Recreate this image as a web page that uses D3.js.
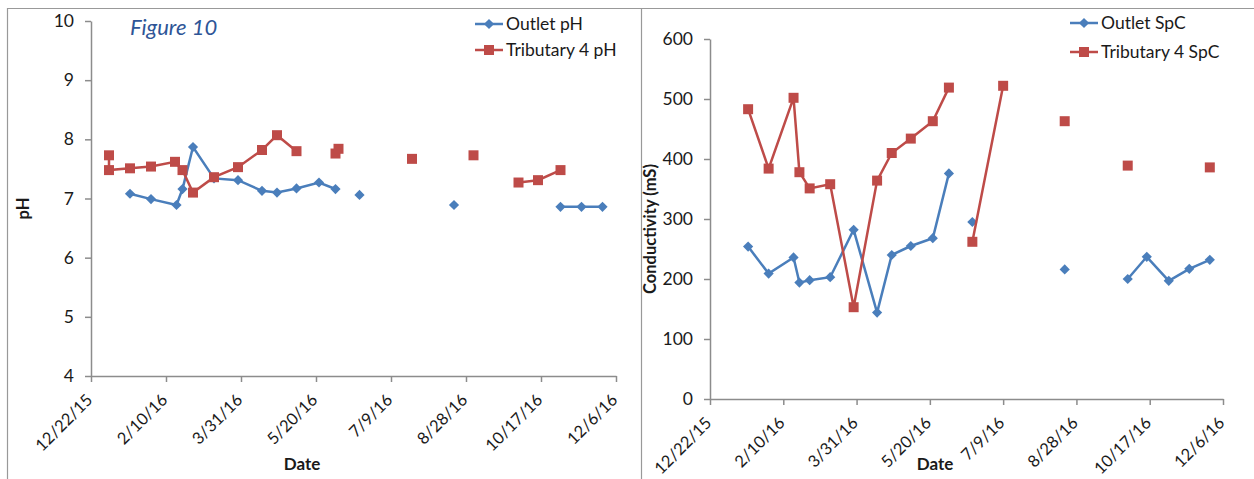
<!DOCTYPE html>
<html>
<head>
<meta charset="utf-8">
<script src="https://cdn.jsdelivr.net/npm/d3@7"></script>
<style>
  body { margin: 0; background: #fff; }
  svg { display: block; font-family: Lato, "Open Sans", sans-serif; }
</style>
</head>
<body>
<svg id="chart" width="1254" height="479"></svg>
<script>
// tick dates (every 50 days) shared by both panels
const tickDates = ['12/22/15', '2/10/16', '3/31/16', '5/20/16', '7/9/16', '8/28/16', '10/17/16', '12/6/16'];

// pH panel, null breaks the line
const outletPhDates = ['1/17/16', '1/31/16', '2/17/16', '2/21/16', '2/28/16', '3/13/16', '3/29/16', '4/14/16', '4/24/16', '5/7/16', '5/22/16', '6/2/16', '6/10/16', '6/18/16', '7/1/16', '8/20/16', '9/1/16', '10/30/16', '11/13/16', '11/27/16'];
const outletPh = [7.08, 6.99, 6.89, 7.16, 7.87, 7.34, 7.31, 7.13, 7.10, 7.17, 7.27, 7.16, null, 7.06, null, 6.89, null, 6.86, 6.86, 6.86];

const tribPhDates = ['1/3/16', '1/3/16', '1/17/16', '1/31/16', '2/16/16', '2/21/16', '2/28/16', '3/13/16', '3/29/16', '4/14/16', '4/24/16', '5/7/16', '5/22/16', '6/2/16', '6/4/16', '6/18/16', '7/23/16', '8/10/16', '9/2/16', '9/20/16', '10/2/16', '10/15/16', '10/30/16'];
const tribPh = [7.73, 7.48, 7.51, 7.54, 7.62, 7.48, 7.10, 7.36, 7.53, 7.82, 8.07, 7.80, null, 7.76, 7.84, null, 7.67, null, 7.73, null, 7.27, 7.31, 7.48];

// conductivity panel
const outletSpcDates = ['1/17/16', '1/31/16', '2/17/16', '2/21/16', '2/28/16', '3/13/16', '3/29/16', '4/14/16', '4/24/16', '5/7/16', '5/22/16', '6/2/16', '6/10/16', '6/18/16', '7/1/16', '8/20/16', '9/1/16', '10/2/16', '10/15/16', '10/30/16', '11/13/16', '11/27/16'];
const outletSpc = [254, 209, 236, 194, 198, 203, 282, 144, 240, 255, 268, 376, null, 295, null, 216, null, 200, 237, 197, 217, 232];

const tribSpcDates = ['1/17/16', '1/31/16', '2/17/16', '2/21/16', '2/28/16', '3/13/16', '3/29/16', '4/14/16', '4/24/16', '5/7/16', '5/22/16', '6/2/16', '6/10/16', '6/18/16', '7/9/16', '7/30/16', '8/20/16', '9/1/16', '10/2/16', '10/20/16', '11/27/16'];
const tribSpc = [483, 384, 502, 378, 351, 358, 153, 364, 410, 434, 463, 519, null, 262, 522, null, 463, null, 389, null, 386];

const phTicks = [4, 5, 6, 7, 8, 9, 10];
const spcTicks = [0, 100, 200, 300, 400, 500, 600];

const BLUE = '#4a7ebb';
const RED = '#be4b48';
const AXIS = '#8c8c8c';

const parse = d3.timeParse('%m/%d/%y');
const fmt = d3.timeFormat('%-m/%-d/%y');
const zip = (ds, vs) => ds.map((d, i) => ({ date: parse(d), value: vs[i] }));

const svg = d3.select('#chart');

// panel frames
svg.append('line').attr('x1', 7).attr('x2', 1254).attr('y1', 8.5).attr('y2', 8.5).attr('stroke', '#999').attr('stroke-width', 1.2);
svg.append('line').attr('x1', 7.5).attr('x2', 7.5).attr('y1', 8).attr('y2', 479).attr('stroke', '#999').attr('stroke-width', 1.2);
svg.append('line').attr('x1', 641.5).attr('x2', 641.5).attr('y1', 8).attr('y2', 479).attr('stroke', '#999').attr('stroke-width', 1.2);

// marker drawers: diamond is a square turned 45 degrees, like Excel's
const markers = {
    diamond: { sym: d3.symbol().type(d3.symbolSquare).size(52), rot: ' rotate(45)' },
    square: { sym: d3.symbol().type(d3.symbolSquare).size(100), rot: '' }
};

const drawPanel = opts => {
    const { x0, x1, y0, y1, domain, ticks, series, yTitle, yTitleX, dateX, legendX } = opts;
    const x = d3.scaleTime().domain([ parse(tickDates[0]), parse(tickDates[tickDates.length - 1]) ]).range([ x0, x1 ]);
    const y = d3.scaleLinear().domain(domain).range([ y0, y1 ]);
    const g = svg.append('g');

    // y axis
    const ya = g.append('g')
    .attr('transform', 'translate(' + x0 + ',0)')
    .call(d3.axisLeft(y).tickValues(ticks).tickFormat(d3.format('d')).tickSize(6).tickSizeOuter(0).tickPadding(11));
    ya.select('.domain').attr('stroke', AXIS).attr('stroke-width', 1.5);
    ya.selectAll('.tick line').attr('stroke', AXIS).attr('stroke-width', 1.5);
    ya.selectAll('text').attr('font-size', 17.5).attr('fill', '#1a1a1a').attr('font-family', 'Lato, sans-serif');

    // x axis
    const xa = g.append('g')
    .attr('transform', 'translate(0,' + y0 + ')')
    .call(d3.axisBottom(x).tickValues(tickDates.map(parse)).tickFormat(fmt).tickSize(6).tickSizeOuter(0));
    xa.select('.domain').attr('stroke', AXIS).attr('stroke-width', 1.5);
    xa.selectAll('.tick line').attr('stroke', AXIS).attr('stroke-width', 1.5);
    xa.selectAll('text')
    .attr('font-size', 16.5)
    .attr('fill', '#1a1a1a')
    .attr('font-family', 'Lato, sans-serif')
    .attr('text-anchor', 'end')
    .attr('dy', null)
    .attr('y', 0)
    .attr('transform', 'translate(2,25) rotate(-45)');

    // axis titles
    g.append('text')
    .attr('transform', 'translate(' + yTitleX + ',' + ((y0 + y1) / 2 + 10) + ') rotate(-90)')
    .attr('text-anchor', 'middle')
    .attr('font-size', 16.5)
    .attr('font-weight', 'bold')
    .attr('fill', '#1a1a1a')
    .text(yTitle);
    g.append('text')
    .attr('x', dateX)
    .attr('y', 470)
    .attr('text-anchor', 'middle')
    .attr('font-size', 17)
    .attr('font-weight', 'bold')
    .attr('fill', '#1a1a1a')
    .text('Date');

    const line = d3.line()
    .defined(d => d.value !== null)
    .x(d => x(d.date))
    .y(d => y(d.value));

    series.forEach((s, i) => {
        const pts = s.data.filter(d => d.value !== null);
        const mk = markers[s.shape];
        g.append('path')
        .datum(s.data)
        .attr('fill', 'none')
        .attr('stroke', s.color)
        .attr('stroke-width', 2.5)
        .attr('d', line);
        g.selectAll('.m' + i)
        .data(pts)
        .enter()
        .append('path')
        .attr('class', 'm' + i)
        .attr('transform', d => 'translate(' + x(d.date) + ',' + y(d.value) + ')' + mk.rot)
        .attr('d', mk.sym)
        .attr('fill', s.color);

        // legend entry
        const ly = opts.legendY[i];
        g.append('line')
        .attr('x1', legendX).attr('x2', legendX + 28)
        .attr('y1', ly).attr('y2', ly)
        .attr('stroke', s.color).attr('stroke-width', 2.5);
        g.append('path')
        .attr('transform', 'translate(' + (legendX + 14) + ',' + ly + ')' + mk.rot)
        .attr('d', mk.sym)
        .attr('fill', s.color);
        g.append('text')
        .attr('x', legendX + 31)
        .attr('y', ly + 6)
        .attr('font-size', 17.5)
        .attr('fill', '#1a1a1a')
        .text(s.name);
    });
};

drawPanel({
    x0: 91, x1: 616, y0: 376, y1: 21,
    domain: [ 4, 10 ], ticks: phTicks,
    yTitle: 'pH', yTitleX: 29, dateX: 302,
    legendX: 475, legendY: [ 24, 50 ],
    series: [
        { name: 'Outlet pH', color: BLUE, shape: 'diamond', data: zip(outletPhDates, outletPh) },
        { name: 'Tributary 4 pH', color: RED, shape: 'square', data: zip(tribPhDates, tribPh) }
    ]
});

drawPanel({
    x0: 710, x1: 1223, y0: 399, y1: 39,
    domain: [ 0, 600 ], ticks: spcTicks,
    yTitle: 'Conductivity (mS)', yTitleX: 656, dateX: 935,
    legendX: 1070, legendY: [ 23, 52 ],
    series: [
        { name: 'Outlet SpC', color: BLUE, shape: 'diamond', data: zip(outletSpcDates, outletSpc) },
        { name: 'Tributary 4 SpC', color: RED, shape: 'square', data: zip(tribSpcDates, tribSpc) }
    ]
});

// figure label
svg.append('text')
.attr('x', 130)
.attr('y', 35)
.attr('font-size', 22)
.attr('font-style', 'italic')
.attr('fill', '#2e5597')
.attr('font-family', 'Lato, sans-serif')
.text('Figure 10');
</script>
</body>
</html>
